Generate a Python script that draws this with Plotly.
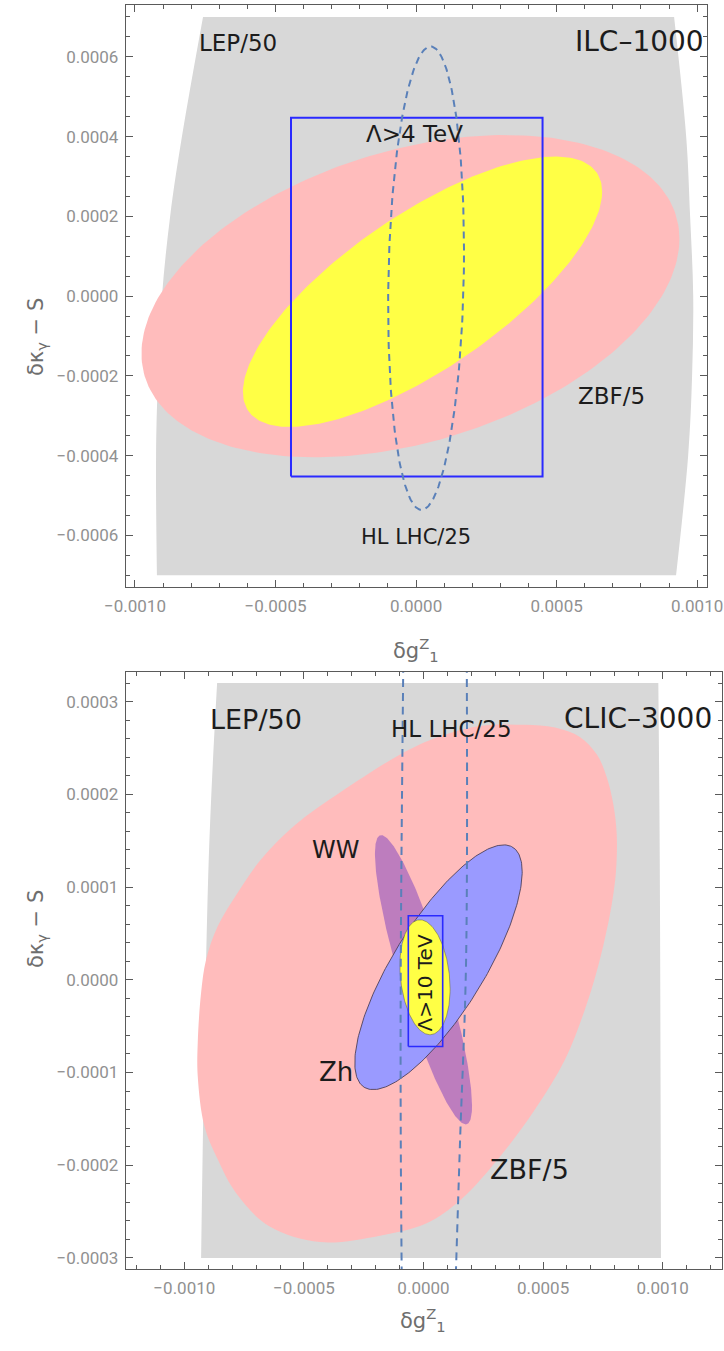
import numpy as np
import plotly.graph_objects as go

W, H = 724, 1351

# ---------------- ILC-1000 panel (top) ----------------
# LEP/50 band: left/right edges sampled along delta kappa_gamma - S
ilc_lep_y = [0.0007, 0.0004, 0.0002, 0.0, -0.0002, -0.0004, -0.0007]
ilc_lep_xl = [-0.000758, -0.000833, -0.000875, -0.000904, -0.000918, -0.000925, -0.000922]
ilc_lep_xr = [0.000918, 0.000961, 0.000975, 0.000986, 0.000982, 0.000968, 0.000925]

# ellipses: centre x, centre y, half-width x, half-width y, correlation
ilc_zbf_ell = [-0.00002, 0.0, 0.000957, 0.000404, 0.356]
ilc_comb_ell = [0.000023, 0.000011, 0.000639, 0.000339, 0.74]
ilc_hllhc_ell = [0.0000356, 0.000045, 0.000135, 0.000581, 0.12]

# Lambda > 4 TeV box: x0, x1, y0, y1
ilc_box = [-0.000445, 0.00045, -0.000452, 0.000447]

ilc_xticks = [-0.001, -0.0005, 0.0, 0.0005, 0.001]
ilc_xticktext = ["\u22120.0010", "\u22120.0005", "0.0000", "0.0005", "0.0010"]
ilc_yticks = [-0.0006, -0.0004, -0.0002, 0.0, 0.0002, 0.0004, 0.0006]
ilc_yticktext = ["\u22120.0006", "\u22120.0004", "\u22120.0002", "0.0000", "0.0002", "0.0004", "0.0006"]

# ---------------- CLIC-3000 panel (bottom) ----------------
clic_lep_y = [0.00032, 0.00013, -0.0003]
clic_lep_xl = [-0.000863, -0.000898, -0.00093]
clic_lep_xr = [0.000982, 0.000988, 0.000993]

# ZBF/5 region outline
clic_zbf_x = [0.000424, 0.00055, 0.000654, 0.000725, 0.000767, 0.000794, 0.000808, 0.000805,
              0.000787, 0.000759, 0.000724, 0.000675, 0.000592, 0.000466, 0.000316, 0.000157,
              0.0000105, -0.000182, -0.000433, -0.000645, -0.000784, -0.00086, -0.000916,
              -0.000944, -0.000944, -0.00093, -0.000909, -0.00086, -0.000777, -0.000679,
              -0.000537, -0.000349, -0.000098, 0.000041, 0.000181, 0.000291, 0.000424]
clic_zbf_y = [0.000275, 0.000272, 0.000262, 0.000243, 0.000218, 0.000189, 0.000157, 0.000117,
              0.000081, 0.000045, 0.0000086, -0.000032, -0.000086, -0.00014, -0.000192, -0.000237,
              -0.000263, -0.000276, -0.000283, -0.000266, -0.00023, -0.000194, -0.000158,
              -0.000104, -0.000068, -0.000014, 0.000022, 0.000058, 0.000094, 0.00013,
              0.000167, 0.000202, 0.000243, 0.00026, 0.000271, 0.000275, 0.000275]

clic_ww_ell = [0.0, 0.0, 0.000203, 0.000156, -0.87]
clic_zh_ell = [0.0000627, 0.0000135, 0.00035, 0.000132, 0.78]
clic_comb_ell = [0.0000063, 0.0000027, 0.000105, 0.000062, -0.2]

# Lambda > 10 TeV box
clic_box = [-0.0000635, 0.0000803, -0.000072, 0.0000691]

# HL-LHC/25 contour edges (nearly vertical)
clic_hllhc_y = [0.00034, 0.0000194, -0.000173, -0.00032]
clic_hllhc_xl = [-0.0000845, -0.000095, -0.000095, -0.000091]
clic_hllhc_xr = [0.000181, 0.000178, 0.000153, 0.000135]

clic_xticks = [-0.001, -0.0005, 0.0, 0.0005, 0.001]
clic_xticktext = ["\u22120.0010", "\u22120.0005", "0.0000", "0.0005", "0.0010"]
clic_yticks = [-0.0003, -0.0002, -0.0001, 0.0, 0.0001, 0.0002, 0.0003]
clic_yticktext = ["\u22120.0003", "\u22120.0002", "\u22120.0001", "0.0000", "0.0001", "0.0002", "0.0003"]

# ---------------- styles ----------------
GREY = "#d8d8d8"
PINK = "#ffbcbc"
YELLOW = "#ffff45"
PURPLE = "#bd7dbe"
ZHBLUE = "#9a9aff"
BOXBLUE = "#2a2aff"
DASH = "rgb(90,128,185)"
LABEL_FONT = "DejaVu Sans"
TICK_FONT = "Roboto"


def ellipse_outline(p, n=260):
    cx, cy, sx, sy, rho = p
    t = np.linspace(0.0, 2.0 * np.pi, n)
    x = cx + sx * np.cos(t)
    y = cy + sy * (rho * np.cos(t) + np.sqrt(1.0 - rho ** 2) * np.sin(t))
    return x, y


def box_outline(b):
    x0, x1, y0, y1 = b
    return [x0, x1, x1, x0, x0], [y0, y0, y1, y1, y0]


fig = go.Figure()


def add_band(xl, xr, y, xa, ya):
    fig.add_trace(go.Scatter(x=xl, y=y, mode="lines", line=dict(width=0, shape="spline"),
                             xaxis=xa, yaxis=ya, hoverinfo="skip"))
    fig.add_trace(go.Scatter(x=xr, y=y, mode="lines", line=dict(width=0, shape="spline"),
                             fill="tonextx", fillcolor=GREY, xaxis=xa, yaxis=ya, hoverinfo="skip"))


def add_region(x, y, color, xa, ya, line_color=None, line_width=0, shape="linear"):
    fig.add_trace(go.Scatter(x=x, y=y, mode="lines", fill="toself", fillcolor=color,
                             line=dict(width=line_width, color=line_color or color, shape=shape),
                             xaxis=xa, yaxis=ya, hoverinfo="skip"))


def add_line(x, y, color, width, xa, ya, dash="solid", shape="linear"):
    fig.add_trace(go.Scatter(x=x, y=y, mode="lines",
                             line=dict(color=color, width=width, dash=dash, shape=shape),
                             xaxis=xa, yaxis=ya, hoverinfo="skip"))


# top panel
add_band(ilc_lep_xl, ilc_lep_xr, ilc_lep_y, "x", "y")
ex, ey = ellipse_outline(ilc_zbf_ell)
add_region(ex, ey, PINK, "x", "y")
ex, ey = ellipse_outline(ilc_comb_ell)
add_region(ex, ey, YELLOW, "x", "y")
bx, by = box_outline(ilc_box)
add_line(bx, by, BOXBLUE, 2, "x", "y")
ex, ey = ellipse_outline(ilc_hllhc_ell)
add_line(ex, ey, DASH, 2, "x", "y", dash="7px,5px")

# bottom panel
add_band(clic_lep_xl, clic_lep_xr, clic_lep_y, "x2", "y2")
add_region(clic_zbf_x, clic_zbf_y, PINK, "x2", "y2", shape="spline")
ex, ey = ellipse_outline(clic_ww_ell)
add_region(ex, ey, PURPLE, "x2", "y2")
ex, ey = ellipse_outline(clic_zh_ell)
add_region(ex, ey, ZHBLUE, "x2", "y2", line_color="rgba(80,65,90,0.9)", line_width=1)
ex, ey = ellipse_outline(clic_comb_ell)
add_region(ex, ey, YELLOW, "x2", "y2", line_color="rgba(110,110,60,0.7)", line_width=0.8)
bx, by = box_outline(clic_box)
add_line(bx, by, BOXBLUE, 1.6, "x2", "y2")
add_line(clic_hllhc_xl, clic_hllhc_y, DASH, 2, "x2", "y2", dash="8px,6px", shape="spline")
add_line(clic_hllhc_xr, clic_hllhc_y, DASH, 2, "x2", "y2", dash="8px,6px", shape="spline")


def px_dom_x(a, b):
    return [a / W, b / W]


def px_dom_y(top, bottom):
    return [1 - bottom / H, 1 - top / H]


axis_common = dict(showline=True, linecolor="#5a5a5a", linewidth=1.3, mirror="allticks",
                   ticks="inside", ticklen=7, tickwidth=1.1, tickcolor="#5a5a5a",
                   showgrid=False, zeroline=False, tickmode="array", automargin=False,
                   ticklabelstandoff=3,
                   tickfont=dict(family=TICK_FONT, size=17, color="#919191"))

fig.update_layout(
    width=W, height=H, margin=dict(l=0, r=0, t=0, b=0, pad=0),
    paper_bgcolor="white", plot_bgcolor="white", showlegend=False,
    xaxis=dict(domain=px_dom_x(126, 706.7), range=[-0.001032, 0.001034], anchor="y",
               tickvals=ilc_xticks, ticktext=ilc_xticktext,
               minor=dict(dtick=0.0001, tick0=0, ticks="inside", ticklen=4, tickcolor="#5a5a5a"),
               **axis_common),
    yaxis=dict(domain=px_dom_y(5, 587.3), range=[-0.00073, 0.00073], anchor="x",
               tickvals=ilc_yticks, ticktext=ilc_yticktext,
               minor=dict(dtick=0.00005, tick0=0, ticks="inside", ticklen=4, tickcolor="#5a5a5a"),
               **axis_common),
    xaxis2=dict(domain=px_dom_x(126, 721.7), range=[-0.001244, 0.001247], anchor="y2",
                tickvals=clic_xticks, ticktext=clic_xticktext,
                minor=dict(dtick=0.0001, tick0=0, ticks="inside", ticklen=4, tickcolor="#5a5a5a"),
                **axis_common),
    yaxis2=dict(domain=px_dom_y(672, 1269), range=[-0.000312, 0.000332], anchor="x2",
                tickvals=clic_yticks, ticktext=clic_yticktext,
                minor=dict(dtick=0.00002, tick0=0, ticks="inside", ticklen=4, tickcolor="#5a5a5a"),
                **axis_common),
)


def label(text, x, y, size, xa="x", ya="y", angle=0):
    fig.add_annotation(text=text, x=x, y=y, xref=xa, yref=ya, showarrow=False,
                       textangle=angle, font=dict(family=LABEL_FONT, size=size, color="#1c1c1c"))


# region labels, top
label("LEP/50", -0.000635, 0.000635, 23)
label("ILC\u20131000", 0.000794, 0.000639, 28)
label("\u039b>4 TeV", -0.000004, 0.000406, 23)
label("ZBF/5", 0.000694, -0.000251, 23)
label("HL LHC/25", 0.0, -0.000604, 21)

# region labels, bottom
label("LEP/50", -0.0007, 0.000281, 27, "x2", "y2")
label("CLIC\u20133000", 0.000898, 0.000282, 28, "x2", "y2")
label("HL LHC/25", 0.000119, 0.00027, 23, "x2", "y2")
label("WW", -0.00037, 0.00014, 24, "x2", "y2")
label("Zh", -0.000366, -0.000099, 26, "x2", "y2")
label("ZBF/5", 0.000445, -0.000205, 27, "x2", "y2")
label("\u039b>10 TeV", 0.000006, -0.000003, 20, "x2", "y2", angle=-90)

# axis titles
title_font = dict(family=LABEL_FONT, size=21, color="#6e6e6e")
for yc in (296, 970):
    fig.add_annotation(text="\u03b4\u03ba<sub>\u03b3</sub> \u2212 S", x=22 / W, y=1 - yc / H,
                       xref="paper", yref="paper", showarrow=False, textangle=-90,
                       font=title_font)
for xc, yc in ((416, 650), (423, 1337)):
    fig.add_annotation(text="\u03b4g<sup>Z</sup><sub>1</sub>", x=xc / W, y=1 - yc / H,
                       xref="paper", yref="paper", showarrow=False, font=title_font)

fig.write_html("out.html")
